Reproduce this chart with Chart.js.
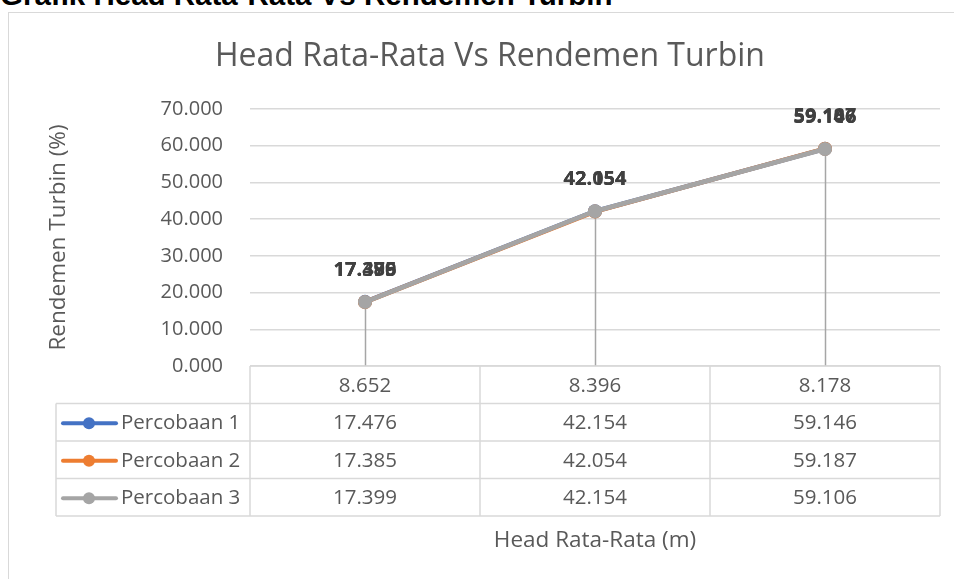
<!DOCTYPE html>
<html>
<head>
<meta charset="utf-8">
<script src="https://cdn.jsdelivr.net/npm/chart.js@4.4.1/dist/chart.umd.min.js"></script>
<style>
  html, body { margin: 0; padding: 0; background: #ffffff; width: 954px; height: 579px; overflow: hidden; }
  #heading { position: absolute; left: 0px; top: -20.5px; font-family: "Liberation Sans", Arial, sans-serif; font-weight: bold; font-size: 29.5px; line-height: 29.5px; color: #000; white-space: nowrap; }
  #frame { position: absolute; left: 8px; top: 12px; width: 1000px; height: 600px; border: 1.5px solid #d9d9d9; box-sizing: border-box; }
  #wrap { position: absolute; left: 0; top: 0; width: 954px; height: 579px; }
</style>
</head>
<body>
<div id="heading">Grafik Head Rata-Rata Vs Rendemen Turbin</div>
<div id="frame"></div>
<div id="wrap"><canvas id="c" width="954" height="579"></canvas></div>
<script>
// ---- data ----
const chartTitle = 'Head Rata-Rata Vs Rendemen Turbin';
const xAxisTitle = 'Head Rata-Rata (m)';
const yAxisTitle = 'Rendemen Turbin (%)';
const categories = ['8.652', '8.396', '8.178'];
const seriesNames = ['Percobaan 1', 'Percobaan 2', 'Percobaan 3'];
const percobaan1 = [17.476, 42.154, 59.146];
const percobaan2 = [17.385, 42.054, 59.187];
const percobaan3 = [17.399, 42.154, 59.106];
const seriesColors = ['#4472C4', '#ED7D31', '#A5A5A5'];
const yMin = 0, yMax = 70, yStep = 10;

const FONT = '"Open Sans", sans-serif';
const TEXT = '#595959';
const GRID = '#d9d9d9';

const seriesValues = [percobaan1, percobaan2, percobaan3];

const fmt = v => v.toFixed(3);

const tablePlugin = {
  id: 'excelExtras',
  beforeDatasetsDraw(chart) {
    const ctx = chart.ctx, x = chart.scales.x, y = chart.scales.y;
    ctx.save();
    ctx.strokeStyle = '#a6a6a6';
    ctx.lineWidth = 1.5;
    categories.forEach((c, i) => {
      const px = Math.round(x.getPixelForValue(i)) + 0.5;
      const maxV = Math.max(...seriesValues.map(s => s[i]));
      ctx.beginPath();
      ctx.moveTo(px, y.getPixelForValue(maxV));
      ctx.lineTo(px, chart.chartArea.bottom);
      ctx.stroke();
    });
    ctx.restore();
  },
  afterDatasetsDraw(chart) {
    const ctx = chart.ctx, x = chart.scales.x, y = chart.scales.y;
    ctx.save();
    ctx.font = 'bold 20px ' + FONT;
    ctx.textAlign = 'center';
    ctx.textBaseline = 'middle';
    const labelColors = ['#404040', '#404040', '#404040'];
    seriesValues.forEach((s, si) => {
      ctx.fillStyle = labelColors[si];
      s.forEach((v, i) => {
        ctx.fillText(fmt(v), x.getPixelForValue(i), y.getPixelForValue(v) - 32);
      });
    });
    ctx.restore();
  },
  afterDraw(chart) {
    const ctx = chart.ctx, x = chart.scales.x, a = chart.chartArea;
    const top = a.bottom;
    const rowH = 37.5;
    const legendLeft = 56;
    ctx.save();
    // title
    ctx.font = '32px ' + FONT;
    ctx.fillStyle = TEXT;
    ctx.textAlign = 'center';
    ctx.textBaseline = 'middle';
    ctx.fillText(chartTitle, 490, 57);

    // table grid
    ctx.strokeStyle = GRID;
    ctx.lineWidth = 1.5;
    const bounds = [a.left];
    for (let i = 0; i < categories.length - 1; i++) {
      bounds.push((x.getPixelForValue(i) + x.getPixelForValue(i + 1)) / 2);
    }
    bounds.push(a.right);
    const nRows = seriesNames.length;
    const bottom = top + rowH * (nRows + 1);
    ctx.beginPath();
    ctx.moveTo(a.left, top); ctx.lineTo(a.right, top);
    for (let r = 1; r <= nRows + 1; r++) {
      const yy = top + rowH * r;
      ctx.moveTo(legendLeft, yy); ctx.lineTo(a.right, yy);
    }
    bounds.forEach((bx) => {
      ctx.moveTo(bx, top); ctx.lineTo(bx, bottom);
    });
    ctx.moveTo(legendLeft, top + rowH); ctx.lineTo(legendLeft, bottom);
    ctx.stroke();

    // header row
    ctx.font = '20.5px ' + FONT;
    ctx.fillStyle = TEXT;
    ctx.textAlign = 'center';
    ctx.textBaseline = 'middle';
    categories.forEach((c, i) => {
      ctx.fillText(c, x.getPixelForValue(i), top + rowH / 2 + 1);
    });
    // series rows
    seriesNames.forEach((name, r) => {
      const cy = top + rowH * (r + 1) + rowH / 2 + 1;
      ctx.strokeStyle = seriesColors[r];
      ctx.lineWidth = 4;
      ctx.lineCap = 'round';
      ctx.beginPath();
      ctx.moveTo(63, cy); ctx.lineTo(116, cy);
      ctx.stroke();
      ctx.fillStyle = seriesColors[r];
      ctx.beginPath();
      ctx.arc(89, cy, 6, 0, Math.PI * 2);
      ctx.fill();
      ctx.fillStyle = TEXT;
      ctx.textAlign = 'left';
      ctx.fillText(name, 121, cy);
      ctx.textAlign = 'center';
      seriesValues[r].forEach((v, i) => {
        ctx.fillText(fmt(v), x.getPixelForValue(i), cy);
      });
    });
    // x axis title
    ctx.font = '22.5px ' + FONT;
    ctx.fillText(xAxisTitle, (a.left + a.right) / 2, 541);
    ctx.restore();
  }
};

new Chart(document.getElementById('c'), {
  type: 'line',
  data: {
    labels: categories,
    datasets: seriesValues.map((s, i) => ({
      label: seriesNames[i],
      data: s,
      order: seriesValues.length - i,
      borderColor: seriesColors[i],
      backgroundColor: seriesColors[i],
      borderWidth: 4.5,
      pointRadius: 7,
      pointHoverRadius: 7,
      pointBorderWidth: 0,
      tension: 0
    }))
  },
  options: {
    responsive: false,
    animation: false,
    events: [],
    layout: { padding: { left: 0, right: 14, top: 109, bottom: 213 } },
    plugins: { legend: { display: false }, title: { display: false }, tooltip: { enabled: false } },
    scales: {
      x: { type: 'category', display: false, offset: true },
      y: {
        min: yMin, max: yMax,
        afterFit(scale) { scale.width = 250; },
        border: { display: false },
        grid: { color: GRID, lineWidth: 1.5, drawTicks: false },
        ticks: { stepSize: yStep, padding: 27, color: TEXT, font: { family: FONT, size: 20 }, callback: v => fmt(v) },
        title: { display: true, text: yAxisTitle, color: TEXT, font: { family: FONT, size: 22.5 }, padding: { top: 45, bottom: 0 } }
      }
    }
  },
  plugins: [tablePlugin]
});
</script>
</body>
</html>
